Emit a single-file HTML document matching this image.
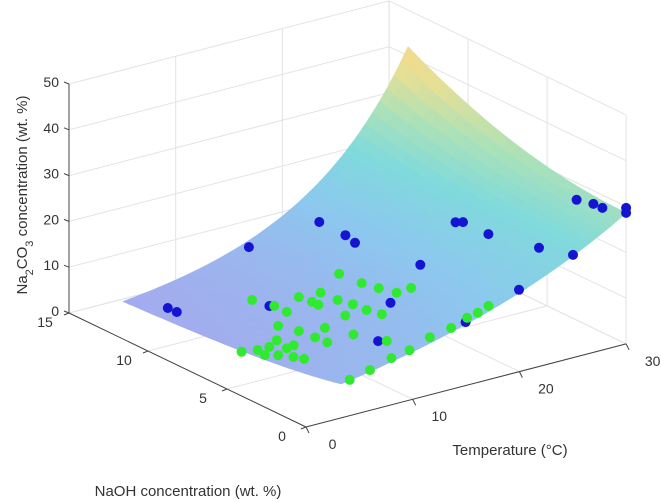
<!DOCTYPE html>
<html><head><meta charset="utf-8"><style>
body{margin:0;background:#fff}
svg{display:block;font-family:"Liberation Sans",sans-serif}
</style></head><body>
<svg id="chart" width="661" height="502" viewBox="0 0 661 502">
<g id="grid"></g>
<g id="surf"></g>
<g id="axes"></g>
<g id="pts"></g>
<text x="188" y="496" font-size="15" fill="#333" text-anchor="middle">NaOH concentration (wt. %)</text>
<text x="510" y="455" font-size="15" fill="#333" text-anchor="middle">Temperature (°C)</text>
<text transform="translate(27,195) rotate(-90)" font-size="15" fill="#333" text-anchor="middle">Na<tspan baseline-shift="sub" font-size="11">2</tspan>CO<tspan baseline-shift="sub" font-size="11">3</tspan> concentration (wt. %)</text>
</svg>
<script>
const tTicks=[0,10,20,30];
const nTicks=[0,5,10,15];
const zTicks=[0,10,20,30,40,50];
const greenT=[18.5,18.7,19.1,19.6,21.1,9.9,13.1,15.0,13.3,13.3,15.1,15.5,15.6,16.0,10.5,10.5,13.6,8.2,8.8,10.8,9.0,9.1,11.7,12.9,2.7,3.9,5.0,6.3,5.9,6.7,3.7,4.5,5.2,5.6,4.1,6.0,8.0,9.7,11.6,13.6,15.1,16.1,17.1];
const greenN=[10.4,9.1,8.3,7.5,7.6,10.1,9.3,9.2,8.6,8.2,8.2,7.5,6.7,6.0,9.1,8.3,6.7,7.3,6.4,6.1,5.5,4.8,4.9,3.6,5.9,5.7,5.7,6.1,5.2,5.3,5.1,4.8,4.3,3.9,0,0,0,0,0,0,0,0,0];
const greenZ=[5,5,5,5,5,5,5,5,5,5,5,5,5,5,5,5,5,5,5,5,5,5,5,5,5,5,5,5,5,5,5,5,5,5,7.8,8.8,10.2,10.9,12.6,13.4,14.7,15.2,16.1];
const blueT=[6.3,6.4,13.9,20.5,18.5,19.4,9.9,16.8,19.6,11.2,22.9,23.6,24.5,24.8,26.5,20.7,15.4,29.8,29.9,30.0,30,30];
const blueN=[13,12.5,13,13,10,10,9,6,6,3,6,6,5,2,1,0.5,0.3,3,2,1.5,0,0];
const blueZ=[0.6,0.5,9.3,10.8,14.1,11.9,5.5,7.0,13.6,7.0,20.9,20.5,19.0,20.8,19.9,16.6,13.1,26.6,27.3,27.2,28.6,29.7];
const surfT=[3.3,30], surfN=[0,13.8];

const NS='http://www.w3.org/2000/svg';
function P(T,N,z){return [306+10.67*T-15.8*N, 427-2.77*T-7.6*N-4.58*z];}
function el(tag,attrs,parent){const e=document.createElementNS(NS,tag);for(const k in attrs)e.setAttribute(k,attrs[k]);parent.appendChild(e);return e;}
function line(a,b,stroke,w,parent,name){const e=el('line',{x1:a[0],y1:a[1],x2:b[0],y2:b[1],stroke:stroke,'stroke-width':w},parent);

return e;}
const grid=document.getElementById('grid'),gc='#e3e3e3';
tTicks.forEach(t=>{line(P(t,0,0),P(t,15,0),gc,1,grid,'floor-grid-t');line(P(t,15,0),P(t,15,50),gc,1,grid,'wall-grid-t');});
nTicks.forEach(n=>{line(P(0,n,0),P(30,n,0),gc,1,grid,'floor-grid-n');line(P(30,n,0),P(30,n,50),gc,1,grid,'wall-grid-n');});
zTicks.forEach(z=>{line(P(0,15,z),P(30,15,z),gc,1,grid,'wall-grid-z');line(P(30,15,z),P(30,0,z),gc,1,grid,'wall-grid-z');});

function f(T,N){const r=N/13.8;const A=28.6+13.4*r*r;const k=0.0506+0.055*r;return A*Math.exp(k*(T-30));}
const stops=[[0,[168,165,238]],[0.35,[140,200,238]],[0.55,[128,218,220]],[0.72,[170,225,185]],[0.88,[228,224,150]],[1,[246,218,138]]];
function col(v){v=Math.max(0,Math.min(1,v));for(let i=1;i<stops.length;i++){if(v<=stops[i][0]){const a=stops[i-1],b=stops[i];const t=(v-a[0])/(b[0]-a[0]);const c=a[1].map((x,j)=>Math.round(x+(b[1][j]-x)*t));return 'rgb('+c.join(',')+')';}}return 'rgb(246,218,138)';}
const surf=document.getElementById('surf');
const nt=40,nn=30,quads=[];
for(let i=0;i<nt;i++)for(let j=0;j<nn;j++){
 const t0=surfT[0]+(surfT[1]-surfT[0])*i/nt,t1=surfT[0]+(surfT[1]-surfT[0])*(i+1)/nt;
 const n0=surfN[0]+(surfN[1]-surfN[0])*j/nn,n1=surfN[0]+(surfN[1]-surfN[0])*(j+1)/nn;
 quads.push({t0,t1,n0,n1,d:(t0+t1)/60+(n0+n1)/30});}
quads.sort((a,b)=>b.d-a.d);
quads.forEach(q=>{const c=[[q.t0,q.n0],[q.t1,q.n0],[q.t1,q.n1],[q.t0,q.n1]];
 let zs=0;const pts=c.map(([t,n])=>{const z=f(t,n);zs+=z;return P(t,n,z).map(v=>v.toFixed(1)).join(',');}).join(' ');
 const cc=col(zs/4/42);
 const e=el('polygon',{points:pts,fill:cc,stroke:cc,'stroke-width':0.7},surf);
 
 });

const axes=document.getElementById('axes'),ac='#444';
line(P(0,0,0),P(30,0,0),ac,1,axes,'temperature-axis');
line(P(0,0,0),P(0,15,0),ac,1,axes,'naoh-axis');
line(P(0,15,0),P(0,15,50),ac,1,axes,'z-axis');
function txt(x,y,s,anchor,name){const e=el('text',{x:x,y:y,'font-size':14,fill:'#333','text-anchor':anchor},axes);e.textContent=s;

}
tTicks.forEach(t=>{const a=P(t,0,0);line(a,[a[0]+3,a[1]+6],ac,1,axes,'t-tick');const p=P(t,-1.3,0);txt(p[0]+6,p[1]+12,String(t),'middle','t-tick-label');});
nTicks.forEach(n=>{const a=P(0,n,0);line(a,[a[0]-5,a[1]+2],ac,1,axes,'n-tick');const p=P(-1.5,n,0);txt(p[0]-8,p[1]+10,String(n),'middle','n-tick-label');});
zTicks.forEach(z=>{const a=P(0,15,z);line(a,[a[0]-5,a[1]-2],ac,1,axes,'z-tick');txt(a[0]-10,a[1]+3,String(z),'end','z-tick-label');});

const pts=document.getElementById('pts');
function dot(T,N,z,fill,name){const p=P(T,N,z);const e=el('circle',{cx:p[0].toFixed(1),cy:p[1].toFixed(1),r:5,fill:fill},pts);

}
blueT.forEach((t,i)=>dot(t,blueN[i],blueZ[i],'#1414d2','blue-point'));
greenT.forEach((t,i)=>dot(t,greenN[i],greenZ[i],'#30ea30','green-point'));
</script>
</body></html>
